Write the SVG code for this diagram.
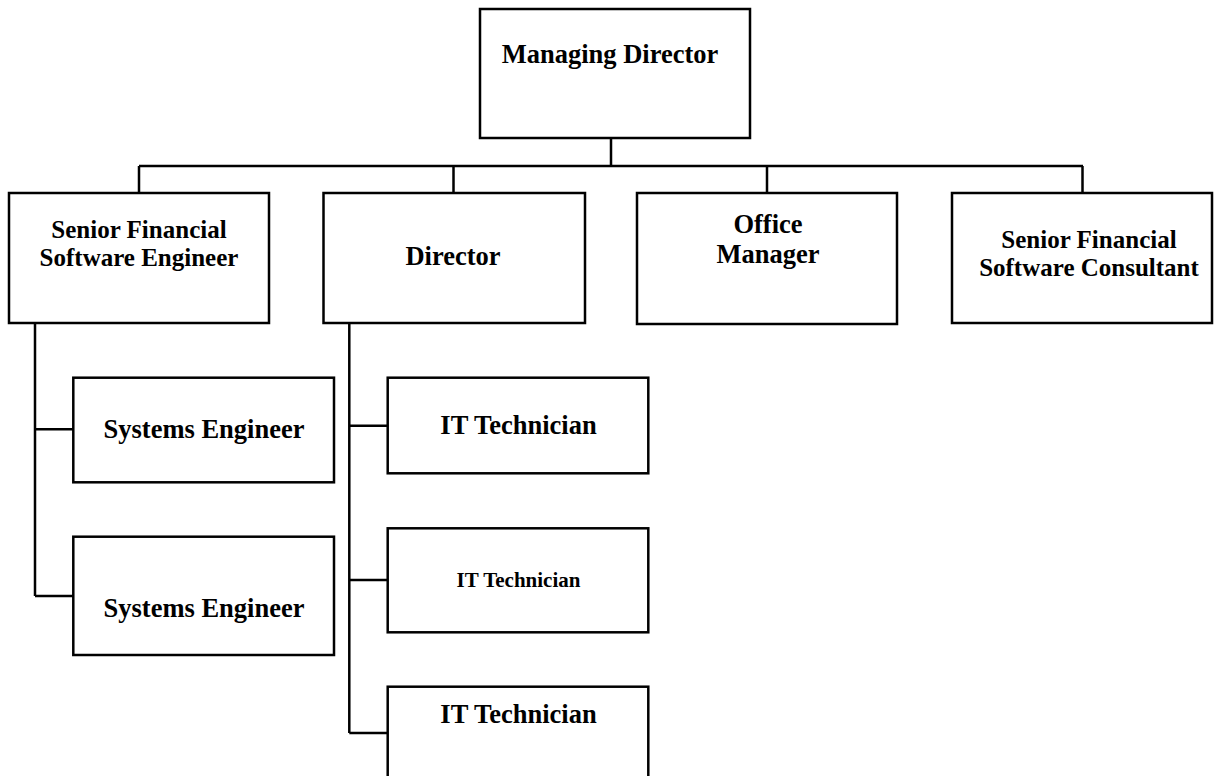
<svg xmlns="http://www.w3.org/2000/svg" width="1218" height="776" viewBox="0 0 1218 776">
<style>
.box{fill:#fff;stroke:#000;stroke-width:2.5}
.ln{fill:none;stroke:#000;stroke-width:2.5}
text{font-family:"Liberation Serif","Times New Roman",serif;font-weight:bold;font-size:26.5px;fill:#000;text-anchor:middle}
.sm{font-size:21px}
.two{font-size:25px}
</style>
<rect width="1218" height="776" fill="#fff"/>
<g id="connectors">
<path class="ln" d="M611,138V166M139,166H1083M139,166V193M453.5,166V193M767,166V193M1082.5,166V193"/>
<path class="ln" d="M35,323V596M35,429.3H73.3M35,596H73.3"/>
<path class="ln" d="M349.3,323V733M349.3,425.7H387.7M349.3,580H387.7M349.3,733H387.7"/>
</g>
<g id="managing-director"><rect class="box" x="480" y="9" width="270" height="129"/><text x="610" y="63">Managing Director</text></g>
<g id="sfse"><rect class="box" x="9" y="193" width="260" height="130"/><text class="two" x="139" y="237.5">Senior Financial</text><text class="two" x="139" y="265.5">Software Engineer</text></g>
<g id="director"><rect class="box" x="323.5" y="193" width="261.5" height="130"/><text x="453" y="265">Director</text></g>
<g id="office-manager"><rect class="box" x="637" y="193" width="260" height="131"/><text x="768" y="233">Office</text><text x="768" y="263">Manager</text></g>
<g id="sfsc"><rect class="box" x="952" y="193" width="260" height="130"/><text class="two" x="1089" y="247.5">Senior Financial</text><text class="two" x="1089" y="275.5">Software Consultant</text></g>
<g id="se1"><rect class="box" x="73.3" y="377.7" width="260.7" height="104.6"/><text x="204" y="438">Systems Engineer</text></g>
<g id="se2"><rect class="box" x="73.3" y="536.7" width="260.7" height="118.3"/><text x="204" y="617">Systems Engineer</text></g>
<g id="it1"><rect class="box" x="387.7" y="377.7" width="260.6" height="95.6"/><text x="518.5" y="434">IT Technician</text></g>
<g id="it2"><rect class="box" x="387.7" y="528.3" width="260.6" height="104"/><text class="sm" x="518.5" y="587">IT Technician</text></g>
<g id="it3"><rect class="box" x="387.7" y="686.7" width="260.6" height="130"/><text x="518.5" y="723">IT Technician</text></g>
</svg>
